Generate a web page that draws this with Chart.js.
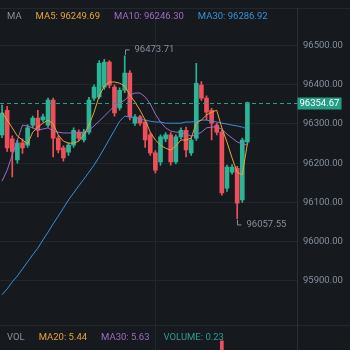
<!DOCTYPE html>
<html>
<head>
<meta charset="utf-8">
<script src="https://cdn.jsdelivr.net/npm/chart.js@4"></script>
<style>
  html, body { margin: 0; padding: 0; background: #161a1e; }
  #wrap { width: 350px; height: 350px; }
</style>
</head>
<body>
<div id="wrap"><canvas id="kline" width="350" height="350"></canvas></div>
<script>
// candles (index = candle slot)
const opens  = [96272, 96335, 96262, 96208, 96252, 96246, 96297, 96315, 96310, 96297,
                96361, 96264, 96239, 96228, 96246, 96279, 96259, 96279, 96366, 96369,
                96394, 96458, 96394, 96341, 96386, 96430, 96302, 96318, 96305, 96272,
                96226, 96203, 96262, 96272, 96203, 96267, 96284, 96226, 96264, 96399,
                96366, 96335, 96297, 96279, 96136, 96177, 96187, 96106, 96254];
const highs  = [96348, 96345, 96270, 96258, 96262, 96298, 96320, 96335, 96325, 96366,
                96366, 96270, 96244, 96252, 96290, 96285, 96286, 96368, 96400, 96462,
                96465, 96462, 96400, 96392, 96473.71, 96436, 96324, 96322, 96310, 96278,
                96232, 96272, 96278, 96278, 96272, 96290, 96292, 96264, 96455, 96408,
                96372, 96340, 96302, 96285, 96195, 96196, 96192, 96264, 96356];
const lows   = [96265, 96230, 96165, 96200, 96225, 96240, 96290, 96267, 96305, 96292,
                96216, 96226, 96205, 96220, 96240, 96258, 96254, 96274, 96360, 96365,
                96388, 96392, 96320, 96335, 96380, 96310, 96296, 96296, 96240, 96220,
                96175, 96195, 96255, 96195, 96198, 96262, 96216, 96220, 96258, 96360,
                96310, 96259, 96272, 96118, 96128, 96172, 96057.55, 96100, 96250];
const closes = [96328, 96239, 96230, 96251, 96239, 96290, 96315, 96284, 96318, 96361,
                96264, 96234, 96213, 96246, 96284, 96264, 96279, 96361, 96394, 96455,
                96458, 96399, 96328, 96386, 96430, 96318, 96318, 96302, 96259, 96226,
                96182, 96267, 96272, 96203, 96267, 96284, 96234, 96259, 96404, 96366,
                96330, 96302, 96279, 96124, 96190, 96190, 96098, 96259, 96354.67];

// moving averages as drawn
const ma5  = [96330, 96310, 96290, 96269, 96259, 96249, 96279, 96292, 96302, 96310,
              96300, 96272, 96256, 96251, 96251, 96256, 96272, 96297, 96330, 96371,
              96397, 96407, 96407, 96404, 96397, 96374, 96356, 96335, 96310, 96279,
              96259, 96246, 96238, 96233, 96244, 96259, 96259, 96264, 96302, 96310,
              96323, 96330, 96335, 96290, 96254, 96213, 96177, 96170, 96249.69];
const ma10 = [96154, 96182, 96221, 96259, 96297, 96295, 96290, 96284, 96287, 96290,
              96282, 96279, 96277, 96277, 96277, 96277, 96279, 96284, 96295, 96307,
              96320, 96333, 96346, 96353, 96361, 96374, 96379, 96379, 96369, 96351,
              96325, 96305, 96290, 96282, 96279, 96279, 96274, 96269, 96272, 96279,
              96290, 96292, 96292, 96287, 96274, 96264, 96254, 96249, 96246.30];
const ma30 = [95864, 95879, 95897, 95912, 95930, 95948, 95966, 95983, 96004, 96024,
              96045, 96065, 96085, 96106, 96124, 96142, 96159, 96177, 96195, 96216,
              96238, 96261, 96284, 96307, 96320, 96318, 96315, 96312, 96310, 96307,
              96305, 96305, 96302, 96302, 96302, 96302, 96305, 96305, 96307, 96310,
              96310, 96307, 96305, 96302, 96300, 96297, 96295, 96292, 96286.92];

// only the top of one volume bar shows above the crop
const volume = [];
volume[43] = 26;
volume[48] = 0.23;
const volMa20 = 5.44;
const volMa30 = 5.63;

const priceTicks = [96500, 96400, 96300, 96200, 96100, 96000, 95900];
const timeGrid = [12, 48];

const UP = '#2bb596', DOWN = '#ef4f5a';
const C_MA5 = '#e8a23a', C_MA10 = '#9c6cc4', C_MA30 = '#3a8fd9';
const TXT = '#848e9c', GRID = '#23272d';
const FONT = '9.5px Roboto';

const idx = closes.map((c, i) => i);
const colors = closes.map((c, i) => c >= opens[i] ? UP : DOWN);
const last = closes[closes.length - 1];

const klineDecor = {
    id: 'klineDecor',
    beforeDraw(chart) {
        const c = chart.ctx;
        c.save();
        c.fillStyle = '#161a1e';
        c.fillRect(0, 0, chart.width, chart.height);
        c.strokeStyle = GRID;
        c.lineWidth = 1;
        c.beginPath();
        c.moveTo(0, 8.5); c.lineTo(chart.width, 8.5);
        c.moveTo(0, 325.5); c.lineTo(chart.width, 325.5);
        c.stroke();
        c.restore();
    },
    afterDatasetsDraw(chart) {
        const c = chart.ctx, x = chart.scales.x, y = chart.scales.y;
        const area = chart.chartArea;
        c.save();

        // last price dashed line + tag
        const py = Math.round(y.getPixelForValue(last)) + 0.5;
        c.strokeStyle = '#2a9d8f';
        c.setLineDash([4, 3]);
        c.beginPath();
        c.moveTo(area.left, py); c.lineTo(area.right, py);
        c.stroke();
        c.setLineDash([]);
        c.fillStyle = '#259e88';
        c.fillRect(area.right, py - 6, 44, 12);
        c.fillStyle = '#ffffff';
        c.font = FONT;
        c.textBaseline = 'middle';
        c.fillText(last.toFixed(2), area.right + 2, py);

        // highest / lowest markers
        let hi = 0, lo = 0;
        highs.forEach((v, i) => { if (v > highs[hi]) hi = i; });
        lows.forEach((v, i) => { if (v < lows[lo]) lo = i; });
        c.strokeStyle = TXT;
        c.fillStyle = TXT;
        c.lineWidth = 1;
        let hx = Math.round(x.getPixelForValue(hi)) + 0.5, hy = y.getPixelForValue(highs[hi]);
        c.beginPath();
        c.moveTo(hx, hy - 1); c.lineTo(hx, hy - 6); c.lineTo(hx + 4, hy - 6);
        c.stroke();
        c.fillText(highs[hi].toFixed(2), hx + 9, hy - 6);
        let lx = Math.round(x.getPixelForValue(lo)) + 0.5, ly = y.getPixelForValue(lows[lo]);
        c.beginPath();
        c.moveTo(lx, ly + 1); c.lineTo(lx, ly + 6); c.lineTo(lx + 4, ly + 6);
        c.stroke();
        c.fillText(lows[lo].toFixed(2), lx + 9, ly + 6);

        // legends
        const row = (items, ty) => {
            let tx = 7;
            items.forEach(([t, col]) => {
                c.fillStyle = col;
                c.fillText(t, tx, ty);
                tx += c.measureText(t).width + 14;
            });
        };
        row([['MA', TXT],
             ['MA5: ' + ma5[ma5.length - 1].toFixed(2), C_MA5],
             ['MA10: ' + ma10[ma10.length - 1].toFixed(2), C_MA10],
             ['MA30: ' + ma30[ma30.length - 1].toFixed(2), C_MA30]], 16.5);
        row([['VOL', TXT],
             ['MA20: ' + volMa20.toFixed(2), C_MA5],
             ['MA30: ' + volMa30.toFixed(2), C_MA10],
             ['VOLUME: ' + volume[48].toFixed(2), '#2a9d8f']], 338);
        c.restore();
    }
};

const line = (data, color) => ({
    type: 'line',
    data: data.map((v, i) => ({ x: i, y: v })),
    borderColor: color,
    borderWidth: 1,
    pointRadius: 0,
    tension: 0,
    fill: false,
    order: 0
});

// keep the tick labels from shrinking the plot area
const noPad = s => { s.paddingTop = 0; s.paddingBottom = 0; s.paddingLeft = 0; s.paddingRight = 0; };

new Chart(document.getElementById('kline'), {
    type: 'bar',
    data: {
        datasets: [
            line(ma5, C_MA5),
            line(ma10, C_MA10),
            line(ma30, C_MA30),
            {
                // bodies
                data: idx.map(i => ({ x: i, y: [opens[i], closes[i]] })),
                backgroundColor: colors,
                barThickness: 4,
                minBarLength: 1,
                grouped: false,
                order: 1
            },
            {
                // wicks
                data: idx.map(i => ({ x: i, y: [lows[i], highs[i]] })),
                backgroundColor: colors,
                barThickness: 1,
                grouped: false,
                order: 2
            },
            {
                data: volume.map((v, i) => ({ x: i, y: v })).filter(d => d.y != null),
                backgroundColor: volume.map((v, i) => colors[i]).filter(Boolean),
                barThickness: 3,
                grouped: false,
                yAxisID: 'yv',
                order: 3
            }
        ]
    },
    options: {
        responsive: false,
        animation: false,
        devicePixelRatio: 1,
        layout: { padding: { top: 8 } },
        plugins: { legend: { display: false }, tooltip: { enabled: false } },
        scales: {
            x: {
                type: 'linear',
                offset: false,
                min: -0.4,
                max: 57.8,
                afterBuildTicks: s => { s.ticks = timeGrid.map(v => ({ value: v })); },
                afterFit: s => { s.height = 0; noPad(s); },
                ticks: { display: false },
                grid: { color: GRID, drawTicks: false },
                border: { display: false }
            },
            y: {
                position: 'right',
                min: 95723,
                max: 96596,
                afterBuildTicks: s => { s.ticks = priceTicks.map(v => ({ value: v })); },
                afterFit: s => { s.width = 52.5; noPad(s); },
                ticks: {
                    color: TXT,
                    font: { family: 'Roboto', size: 9.5 },
                    padding: 5.5,
                    callback: v => v.toFixed(2)
                },
                grid: { color: GRID, drawTicks: false },
                border: { color: '#2b2f36' }
            },
            yv: {
                display: false,
                min: 22,
                max: 172.7
            }
        }
    },
    plugins: [klineDecor]
});
</script>
</body>
</html>
